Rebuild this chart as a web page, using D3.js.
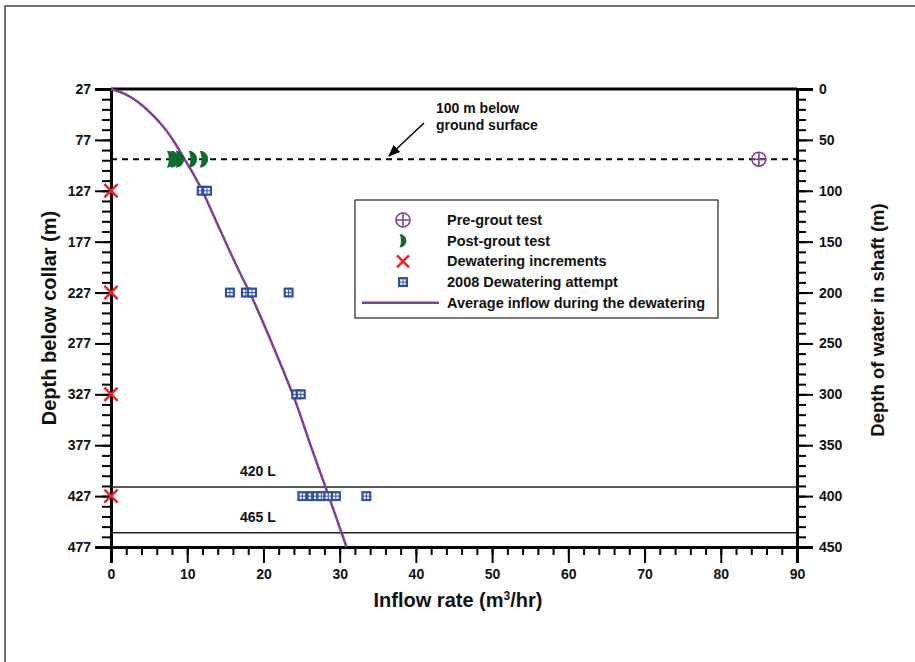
<!DOCTYPE html>
<html>
<head>
<meta charset="utf-8">
<script src="https://cdn.jsdelivr.net/npm/d3@7"></script>
<style>
  body { margin: 0; background: #fff; }
  svg text { font-family: "Liberation Sans", Arial, sans-serif; font-weight: bold; fill: #111; }
</style>
</head>
<body>
<svg id="chart" width="915" height="662"></svg>
<script>
// values (shaft depth in m, inflow in m3/hr)
const preGroutQ = [85];
const preGroutDepth = [69];

const postGroutQ = [7.9, 8.4, 9.05, 10.75, 12.2];
const postGroutDepth = [69, 69, 69, 69, 69];

const incrementQ = [0, 0, 0, 0];
const incrementDepth = [100, 200, 300, 400];

const attemptQ = [11.9, 12.6, 15.6, 17.7, 18.5, 23.3, 24.3, 24.9, 25.1, 26.3, 27.0, 27.6, 28.5, 29.5, 33.5];
const attemptDepth = [100, 100, 200, 200, 200, 200, 300, 300, 400, 400, 400, 400, 400, 400, 400];

const avgQ = [0, 1.8, 3.6, 5.3, 7.1, 8.6, 9.7, 10.8, 11.9, 14.3, 16.9, 18.7, 21.3, 24.4, 25.9, 28.3, 30.9];
const avgDepth = [0, 4, 12.5, 24, 38.6, 55, 70, 83, 98, 138.5, 181, 207, 253, 309, 345, 394, 450];

const levelDepth = [391, 436];
const levelLabels = ['420 L', '465 L'];

const surfaceDepth = 69;

const legendLabels = ['Pre-grout test', 'Post-grout test', 'Dewatering increments', '2008 Dewatering attempt', 'Average inflow during the dewatering'];

const inflowTicks = d3.range(0, 91, 10);
const collarTicks = d3.range(27, 478, 50);
const shaftTicks = d3.range(0, 451, 50);

const purple = '#7d3f9c', green = '#0f6a30', red = '#e8232b', blue = '#2f4fa2';

const svg = d3.select('#chart');

// outer frame
svg.append('path')
  .attr('d', 'M5,662 L5,6 L915,6')
  .attr('fill', 'none').attr('stroke', '#444').attr('stroke-width', 1.5);

const x = d3.scaleLinear().domain([0, 90]).range([111, 797]);
const yLeft = d3.scaleLinear().domain([27, 477]).range([89, 547]);
const y = d3.scaleLinear().domain([0, 450]).range([89, 547]);

// axes
const bottom = svg.append('g').attr('transform', 'translate(0,547)');
bottom.append('g').call(d3.axisBottom(x).tickValues(d3.range(0, 91, 2)).tickSize(8).tickFormat(''));
bottom.append('g').call(d3.axisBottom(x).tickValues(inflowTicks).tickSize(16).tickPadding(6));

const left = svg.append('g').attr('transform', 'translate(111,0)');
left.append('g').call(d3.axisLeft(yLeft).tickValues(d3.range(27, 478, 10)).tickSize(9).tickFormat(''));
left.append('g').call(d3.axisLeft(yLeft).tickValues(collarTicks).tickSize(16).tickPadding(4));

const right = svg.append('g').attr('transform', 'translate(797,0)');
right.append('g').call(d3.axisRight(y).tickValues(d3.range(0, 451, 10)).tickSize(9).tickFormat(''));
right.append('g').call(d3.axisRight(y).tickValues(shaftTicks).tickSize(16).tickPadding(6));

svg.selectAll('.domain').attr('stroke', '#000').attr('stroke-width', 3);
svg.selectAll('.tick line').attr('stroke', '#000').attr('stroke-width', 2);
svg.selectAll('.tick text').attr('font-size', 14).attr('font-family', '"Liberation Sans", Arial, sans-serif').attr('font-weight', 'bold').attr('fill', '#111');

// top border of plot
svg.append('line').attr('x1', 111).attr('x2', 797).attr('y1', y(0)).attr('y2', y(0))
  .attr('stroke', '#000').attr('stroke-width', 3);

// axis titles
svg.append('text').attr('x', 458).attr('y', 607).attr('text-anchor', 'middle').attr('font-size', 20)
  .html('Inflow rate (m<tspan font-size="12" dy="-7">3</tspan><tspan dy="7">/hr)</tspan>');
svg.append('text').attr('transform', 'translate(56,318) rotate(-90)').attr('text-anchor', 'middle').attr('font-size', 20)
  .text('Depth below collar (m)');
svg.append('text').attr('transform', 'translate(884,320) rotate(-90)').attr('text-anchor', 'middle').attr('font-size', 18.5)
  .text('Depth of water in shaft (m)');

// level lines
levelDepth.forEach((d, i) => {
  svg.append('line').attr('x1', 111).attr('x2', 797).attr('y1', y(d)).attr('y2', y(d))
    .attr('stroke', '#222').attr('stroke-width', 1.5);
  svg.append('text').attr('x', 240).attr('y', y(d) - 11).attr('font-size', 14).text(levelLabels[i]);
});

// ground surface line and note
svg.append('line').attr('x1', 111).attr('x2', 797).attr('y1', y(surfaceDepth)).attr('y2', y(surfaceDepth))
  .attr('stroke', '#000').attr('stroke-width', 2).attr('stroke-dasharray', '6,5');

svg.append('defs').append('marker')
  .attr('id', 'arrow').attr('viewBox', '0 0 10 10').attr('refX', 9).attr('refY', 5)
  .attr('markerWidth', 8).attr('markerHeight', 8).attr('orient', 'auto-start-reverse')
  .append('path').attr('d', 'M0,1 L10,5 L0,9 Z').attr('fill', '#000');
svg.append('line').attr('x1', 424).attr('y1', 123).attr('x2', 389).attr('y2', 156)
  .attr('stroke', '#000').attr('stroke-width', 1.5).attr('marker-end', 'url(#arrow)');
svg.append('text').attr('x', 436).attr('y', 113).attr('font-size', 14).text('100 m below');
svg.append('text').attr('x', 436).attr('y', 130).attr('font-size', 14).text('ground surface');

// average inflow curve
const avgLine = d3.line().x(d => x(d[0])).y(d => y(d[1])).curve(d3.curveBasis);
svg.append('path').datum(d3.zip(avgQ, avgDepth)).attr('d', avgLine)
  .attr('fill', 'none').attr('stroke', purple).attr('stroke-width', 2.5);

// marker drawers
const crescent = (g, s) => g.append('path')
  .attr('d', `M-4,-8 A8 8 0 0 1 -4,8 A20 20 0 0 0 -4,-8 Z`)
  .attr('transform', `scale(${s})`).attr('fill', green);

const cross = (g, s) => g.append('path')
  .attr('d', `M${-6*s},${-6*s} L${6*s},${6*s} M${-6*s},${6*s} L${6*s},${-6*s}`)
  .attr('stroke', red).attr('stroke-width', 2.5).attr('fill', 'none');

const squareMark = (g) => {
  g.append('rect').attr('x', -5).attr('y', -5).attr('width', 10).attr('height', 10).attr('fill', blue);
  [[-2.8, -2.8], [0.5, -2.8], [-2.8, 0.5], [0.5, 0.5]].forEach(p => {
    g.append('rect').attr('x', p[0]).attr('y', p[1]).attr('width', 2.3).attr('height', 2.3).attr('fill', '#fff');
  });
};

const circleMark = (g) => {
  g.append('circle').attr('r', 7).attr('fill', 'none').attr('stroke', purple).attr('stroke-width', 1.6);
  g.append('path').attr('d', 'M-7,0 L7,0 M0,-7 L0,7').attr('stroke', purple).attr('stroke-width', 1.6);
};

// data marks
d3.zip(attemptQ, attemptDepth).forEach(d => {
  squareMark(svg.append('g').attr('transform', `translate(${x(d[0])},${y(d[1])})`));
});
d3.zip(postGroutQ, postGroutDepth).forEach(d => {
  crescent(svg.append('g').attr('transform', `translate(${x(d[0])},${y(d[1])})`), 1.05);
});
d3.zip(incrementQ, incrementDepth).forEach(d => {
  cross(svg.append('g').attr('transform', `translate(${x(d[0])},${y(d[1])})`), 1.1);
});
d3.zip(preGroutQ, preGroutDepth).forEach(d => {
  circleMark(svg.append('g').attr('transform', `translate(${x(d[0])},${y(d[1])})`));
});

// legend
const legend = svg.append('g');
legend.append('rect').attr('x', 355).attr('y', 200).attr('width', 363).attr('height', 118)
  .attr('fill', '#fff').attr('stroke', '#222').attr('stroke-width', 1.2);
legendLabels.forEach((t, i) => {
  const ly = 220 + i * 20.7;
  const g = legend.append('g').attr('transform', `translate(403,${ly})`);
  if (i === 0) circleMark(g);
  if (i === 1) crescent(g, 0.85);
  if (i === 2) cross(g, 1);
  if (i === 3) squareMark(g);
  if (i === 4) g.append('line').attr('x1', -41).attr('x2', 36).attr('stroke', purple).attr('stroke-width', 2.5);
  legend.append('text').attr('x', 447).attr('y', ly + 5).attr('font-size', 14.5).text(t);
});
</script>
</body>
</html>
